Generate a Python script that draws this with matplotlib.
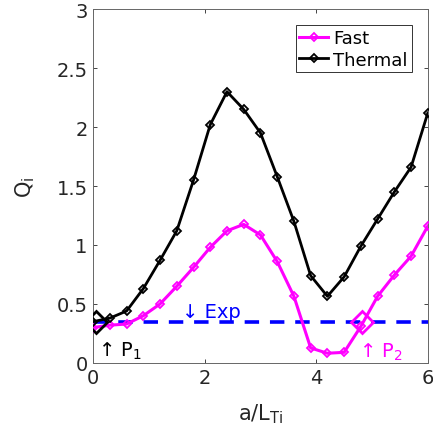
import matplotlib.pyplot as plt
import numpy as np

# normalised temperature gradient a/L_Ti
a_lti = [0.0, 0.3, 0.6, 0.9, 1.2, 1.5, 1.8, 2.1, 2.4, 2.7, 3.0,
         3.3, 3.6, 3.9, 4.2, 4.5, 4.8, 5.1, 5.4, 5.7, 6.0]
q_fast = [0.30, 0.32, 0.33, 0.40, 0.50, 0.65, 0.81, 0.98, 1.12, 1.175, 1.085,
          0.86, 0.565, 0.127, 0.082, 0.09, 0.31, 0.565, 0.745, 0.905, 1.16]
q_thermal = [0.35, 0.38, 0.44, 0.63, 0.87, 1.12, 1.55, 2.02, 2.30, 2.15, 1.95,
             1.58, 1.20, 0.74, 0.565, 0.73, 0.99, 1.22, 1.45, 1.66, 2.12]
q_exp = 0.345
p1_x = 0.05
p2_x = 4.82

plt.rcParams["font.family"] = "DejaVu Sans"
fig = plt.figure(figsize=(4.33, 4.39), dpi=100)
ax = fig.add_axes([0.215, 0.171, 0.773, 0.806])

ax.plot(a_lti, q_fast, color="magenta", lw=2.2, marker="D", ms=4.5,
        mfc="none", mew=1.3, label="Fast", zorder=3)
ax.plot(a_lti, q_thermal, color="black", lw=2.0, marker="D", ms=4.5,
        mfc="none", mew=1.3, label="Thermal", zorder=3)

# experimental flux level
ax.axhline(q_exp, color="blue", lw=2.6, ls=(0, (4, 3)), zorder=2)

# operating points where the simulated flux meets the experiment
ax.plot([p1_x], [q_exp], marker="D", ms=11, mfc="none", mec="black", mew=2, zorder=4)
ax.plot([p2_x], [q_exp], marker="D", ms=11, mfc="none", mec="magenta", mew=2, zorder=4)

ax.text(1.6, 0.39, "↓ Exp", color="blue", fontsize=14)
ax.text(0.08, 0.06, "↑ P$_1$", color="black", fontsize=14)
ax.text(4.76, 0.05, "↑ P$_2$", color="magenta", fontsize=14)

ax.set_xlim(0, 6)
ax.set_ylim(0, 3)
ax.set_xticks([0, 2, 4, 6])
ax.set_yticks(np.arange(0, 3.01, 0.5))
ax.set_yticklabels(["0", "0.5", "1", "1.5", "2", "2.5", "3"])
ax.tick_params(direction="in", length=3, width=0.6, top=True, right=True,
               labelsize=14, colors="0.15", pad=4)
for s in ax.spines.values():
    s.set_color("0.4")
    s.set_linewidth(0.7)

ax.set_xlabel("a/L$_{\\mathrm{Ti}}$", fontsize=15, color="0.15", labelpad=10)
ax.set_ylabel("Q$_{\\mathrm{i}}$", fontsize=15, color="0.15", labelpad=14)

leg = ax.legend(loc="upper right", fontsize=13, frameon=True, fancybox=False,
                edgecolor="black", handlelength=1.6, handletextpad=0.3,
                borderpad=0.2, labelspacing=0.2, borderaxespad=0.9)
leg.get_frame().set_linewidth(0.7)

fig.savefig("out.png", dpi=100)
